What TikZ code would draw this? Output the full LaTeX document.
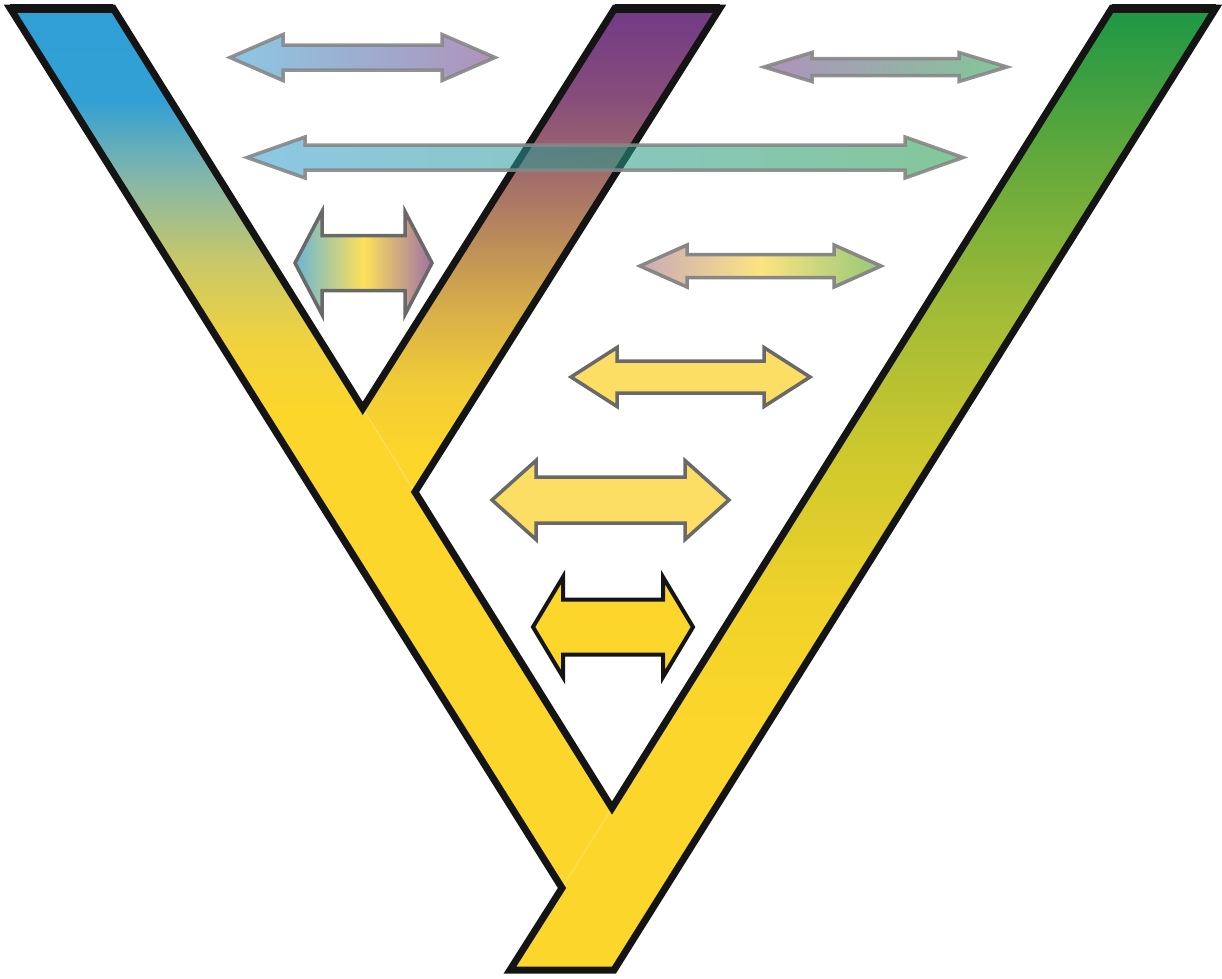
\documentclass[tikz,border=0pt]{standalone}
\definecolor{tyellow}{RGB}{252,214,42}
\definecolor{b0}{RGB}{47,159,214}
\definecolor{b1}{RGB}{50,160,212}
\definecolor{b2}{RGB}{130,182,170}
\definecolor{b3}{RGB}{200,200,105}
\definecolor{b4}{RGB}{240,210,62}
\definecolor{p0}{RGB}{112,56,135}
\definecolor{p1}{RGB}{135,78,122}
\definecolor{p2}{RGB}{172,120,100}
\definecolor{p3}{RGB}{212,170,75}
\definecolor{p4}{RGB}{240,203,55}
\definecolor{g0}{RGB}{25,150,70}
\definecolor{g1}{RGB}{95,168,60}
\definecolor{g2}{RGB}{158,186,55}
\definecolor{g3}{RGB}{205,200,45}
\definecolor{g4}{RGB}{240,210,42}
\definecolor{ablue}{RGB}{46,155,208}
\definecolor{apurple}{RGB}{110,58,133}
\definecolor{agreen}{RGB}{30,154,70}
\definecolor{c4l}{RGB}{105,182,212}
\definecolor{c4m}{RGB}{253,225,90}
\definecolor{c4r}{RGB}{160,115,165}
\definecolor{c5l}{RGB}{200,170,185}
\definecolor{c5m}{RGB}{252,228,130}
\definecolor{c5r}{RGB}{150,200,120}
\definecolor{lyellow}{RGB}{253,222,100}
\definecolor{agray}{RGB}{135,135,135}
\definecolor{dgray}{RGB}{105,105,105}
\newcommand{\gseg}[4]{\shade[top color=#3,bottom color=#4] (-5,#1) rectangle (1230,{#2+1});}
\newcommand{\dblarr}[7]{%
  \path[#7] (#1,#3) -- ({#1+#6},{#3-#4}) -- ({#1+#6},{#3-#5}) -- ({#2-#6},{#3-#5}) -- ({#2-#6},{#3-#4}) -- (#2,#3) -- ({#2-#6},{#3+#4}) -- ({#2-#6},{#3+#5}) -- ({#1+#6},{#3+#5}) -- ({#1+#6},{#3+#4}) -- cycle;}
\tikzset{
  outline/.style={draw=black!92, line width=7, line join=miter},
  palearrow/.style={draw=agray, line width=3.5, line join=miter, fill opacity=0.55, draw opacity=0.9},
  yelarrow/.style={draw=dgray, line width=3.5, line join=miter, fill=lyellow},
}
\begin{document}
\begin{tikzpicture}[x=1pt,y=-1pt]
\fill[white] (0,0) rectangle (1222,978);
\useasboundingbox (0,0) rectangle (1222,978);
\coordinate (A) at (10,8);
\coordinate (B) at (113,8);
\coordinate (C) at (362.7,408.4);
\coordinate (D) at (615,8);
\coordinate (E) at (720,8);
\coordinate (F) at (415,492);
\coordinate (G) at (612,808);
\coordinate (H) at (1112,8);
\coordinate (I) at (1216,8);
\coordinate (J) at (614,970);
\coordinate (K) at (510,970);
\coordinate (L) at (562,888);
% blue strip
\begin{scope}
\clip (A)--(B)--(G)--(L)--cycle;
\gseg{0}{100}{b0}{b1}
\gseg{100}{175}{b1}{b2}
\gseg{175}{260}{b2}{b3}
\gseg{260}{340}{b3}{b4}
\gseg{340}{410}{b4}{tyellow}
\fill[tyellow] (-5,410) rectangle (1230,980);
\end{scope}
% purple strip
\begin{scope}
\clip (D)--(E)--(F)--(C)--cycle;
\gseg{0}{100}{p0}{p1}
\gseg{100}{200}{p1}{p2}
\gseg{200}{300}{p2}{p3}
\gseg{300}{380}{p3}{p4}
\gseg{380}{450}{p4}{tyellow}
\fill[tyellow] (-5,450) rectangle (1230,980);
\end{scope}
% green strip (trunk)
\begin{scope}
\clip (H)--(I)--(J)--(K)--cycle;
\gseg{0}{150}{g0}{g1}
\gseg{150}{300}{g1}{g2}
\gseg{300}{450}{g2}{g3}
\gseg{450}{600}{g3}{g4}
\gseg{600}{720}{g4}{tyellow}
\fill[tyellow] (-5,720) rectangle (1230,980);
\end{scope}
% faint seams
\draw[white, opacity=0.25, line width=1] (C) -- (F);
\draw[white, opacity=0.25, line width=1] (G) -- (L);
% outline
\draw[outline] (A)--(B)--(C)--(D)--(E)--(F)--(G)--(H)--(I)--(J)--(K)--(L)--cycle;
\draw[black!92, line width=9] (A)--(B) (D)--(E) (H)--(I);
% arrows
\dblarr{230}{495}{57.5}{23}{12.5}{53}{palearrow, left color=ablue, right color=apurple}
\dblarr{764}{1007}{67}{14.5}{8.5}{48}{palearrow, left color=apurple, right color=agreen}
\dblarr{247}{963}{157.5}{20.5}{12.5}{58}{palearrow, left color=ablue, right color=agreen}
\dblarr{295}{432}{263}{51.5}{27.5}{27}{draw=dgray, line width=3.5, line join=miter, left color=c4l, right color=c4r, middle color=c4m}
\dblarr{640}{881}{266}{21}{11.5}{47}{draw=agray, line width=3.5, line join=miter, left color=c5l, right color=c5r, middle color=c5m}
\dblarr{571}{810}{377}{29.5}{16}{46}{yelarrow}
\dblarr{492}{729}{500}{39.5}{23}{44}{yelarrow}
\dblarr{533}{693}{627}{50}{27.5}{30}{draw=black!92, line width=4, line join=miter, fill=tyellow}
\end{tikzpicture}
\end{document}
